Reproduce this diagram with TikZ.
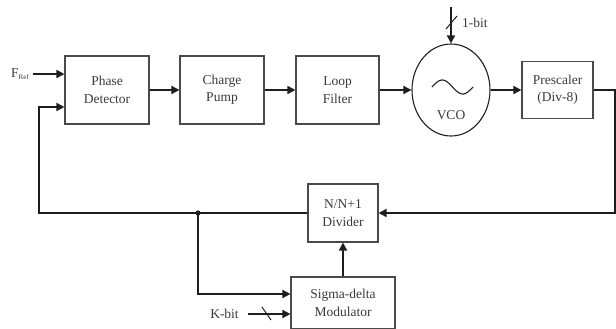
\documentclass[tikz,border=0pt]{standalone}
\usepackage{fontspec}
\setmainfont{Liberation Serif}
\usepackage{xcolor}
\usetikzlibrary{positioning,calc,arrows.meta,shapes.geometric}
\definecolor{ink}{HTML}{1e1e1e}
\definecolor{soft}{HTML}{3a3a3a}
\definecolor{frame}{HTML}{4a4a4a}

\begin{document}
\begin{tikzpicture}[x=1pt,y=-1pt,
    block/.style={draw=frame,line width=1.1pt,align=center,inner sep=0pt,
      text=soft,font=\fontsize{13.5}{17.5}\selectfont},
    wire/.style={ink,line width=1.6pt},
    arr/.style={wire,-{Triangle[length=8pt,width=8pt]}},
    lbl/.style={text=soft,inner sep=0pt,font=\fontsize{13.5}{15}\selectfont}]

  % page frame
  \useasboundingbox (0,0) rectangle (616,329);

  % ---------------------------------------------------------------- FORWARD PATH
  \node[block,minimum width=84pt,minimum height=68pt] (pd) at (107,90)
    {Phase\\Detector};
  \node[block,minimum width=84pt,minimum height=68pt] (cp) at (222,90)
    {Charge\\Pump};
  \node[block,minimum width=83pt,minimum height=68pt] (lf) at (337.5,90)
    {Loop\\Filter};
  \node[ellipse,draw=ink,line width=1.1pt,minimum width=78pt,
    minimum height=92pt,inner sep=0pt] (vco) at (451,90) {};
  \node[lbl] (vcotxt) at (451,115) {VCO};
  \draw[ink,line width=1.1pt,domain=0:360,samples=40,smooth]
    plot ({432+\x/360*41},{87-7*sin(\x)});
  \node[block,minimum width=71pt,minimum height=57pt] (ps) at (557.5,90)
    {Prescaler\\(Div-8)};

  \draw[arr] (pd.east) -- (cp.west);
  \draw[arr] (cp.east) -- (lf.west);
  \draw[arr] (lf.east) -- (vco.west);
  \draw[arr] (vco.east) -- (ps.west);

  % 1-bit control into the VCO
  \coordinate (vtop) at (451,7);
  \draw[arr] (vtop) -- (vco.north);
  \draw[ink,line width=1pt] (446,29) -- (457,16);
  \node[lbl,anchor=west] (onebit) at (462,23) {1-bit};

  % reference input
  \node[lbl,anchor=west] (fref) at (11,74) {F\raisebox{-2pt}{\fontsize{7}{8}\selectfont Ref}};
  \coordinate (fin) at (33,74);
  \draw[arr] (fin) -- (fin -| pd.west);

  % ---------------------------------------------------------------- FEEDBACK PATH
  \node[block,minimum width=70pt,minimum height=58pt] (div) at (343,213)
    {N/N+1\\Divider};
  \node[block,minimum width=104pt,minimum height=52pt] (sdm) at (343,303)
    {Sigma-delta\\Modulator};

  \coordinate (rc) at (615,213);
  \draw[arr] (ps.east) -- (ps.east -| rc) -- (rc) -- (div.east);

  \coordinate (jn) at (198,213);
  \coordinate (lc) at (39,213);
  \coordinate (fb) at (39,107);
  \draw[arr] (div.west) -- (jn) -- (lc) -- (fb) -- (fb -| pd.west);
  \fill[ink] (jn) circle (2.6pt);
  \draw[arr] (jn) |- ([yshift=9pt]sdm.west);
  \draw[arr] (sdm.north) -- (div.south);

  % K-bit input into the modulator
  \node[lbl] (kbit) at (224.5,314) {K-bit};
  \draw[arr] ([xshift=9pt]kbit.east) -- (kbit.east -| sdm.west);
  \draw[ink,line width=1pt] (262,307) -- (271,320);

\end{tikzpicture}
\end{document}
